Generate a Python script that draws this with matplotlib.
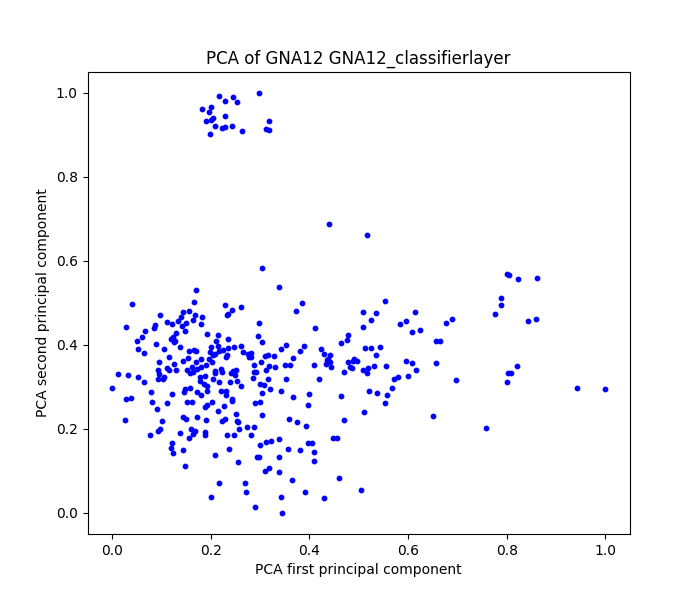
import matplotlib
matplotlib.use('Agg')
import matplotlib.pyplot as plt

# points, grouped by region
top_x = [0.216, 0.246, 0.228, 0.254, 0.297, 0.183, 0.201, 0.197, 0.228, 0.204, 0.191,
         0.200, 0.319, 0.208, 0.223, 0.228, 0.242, 0.264, 0.311, 0.319, 0.199]
top_y = [0.993, 0.990, 0.981, 0.978, 0.999, 0.960, 0.966, 0.954, 0.945, 0.940, 0.933,
         0.934, 0.933, 0.921, 0.916, 0.918, 0.921, 0.909, 0.914, 0.911, 0.902]

mid_x = [0.440, 0.517, 0.304, 0.171, 0.339]
mid_y = [0.688, 0.662, 0.583, 0.530, 0.537]

right_x = [0.788, 0.788, 0.777, 0.689, 0.844, 0.859, 0.820, 0.803, 0.809, 0.800, 0.698,
           0.943, 1.000, 0.759, 0.801, 0.805, 0.822, 0.862]
right_y = [0.511, 0.495, 0.473, 0.461, 0.456, 0.461, 0.349, 0.333, 0.333, 0.311, 0.316,
           0.297, 0.294, 0.202, 0.569, 0.567, 0.557, 0.560]

left_x = [0.041, 0.165, 0.098, 0.143, 0.155, 0.167, 0.182, 0.140, 0.112, 0.121, 0.134,
          0.149, 0.163, 0.181, 0.142, 0.086, 0.084, 0.029, 0.066, 0.147, 0.061, 0.051,
          0.129, 0.124, 0.120, 0.128, 0.125, 0.088, 0.193, 0.215, 0.137, 0.210, 0.214,
          0.200, 0.053, 0.064, 0.106, 0.155, 0.166, 0.170, 0.199, 0.216, 0.208, 0.116,
          0.153, 0.143, 0.181, 0.171, 0.197, 0.202, 0.094, 0.125, 0.112, 0.116, 0.129,
          0.093, 0.094, 0.151, 0.162, 0.164, 0.173, 0.181, 0.191, 0.208, 0.012, 0.033,
          0.053, 0.064, 0.105, 0.093, 0.103, 0.158, 0.178, 0.189, 0.178, 0.186, 0.193,
          0.205, 0.216, 0.000, 0.079, 0.122, 0.147, 0.157, 0.172, 0.145, 0.192, 0.181,
          0.029, 0.039]
left_y = [0.497, 0.502, 0.471, 0.478, 0.481, 0.471, 0.467, 0.466, 0.454, 0.450, 0.456,
          0.453, 0.459, 0.450, 0.444, 0.448, 0.440, 0.442, 0.432, 0.432, 0.418, 0.409,
          0.428, 0.418, 0.414, 0.410, 0.406, 0.402, 0.426, 0.423, 0.395, 0.409, 0.398,
          0.394, 0.390, 0.380, 0.390, 0.385, 0.388, 0.385, 0.383, 0.386, 0.379, 0.371,
          0.369, 0.361, 0.366, 0.359, 0.366, 0.358, 0.360, 0.355, 0.344, 0.339, 0.340,
          0.339, 0.330, 0.339, 0.347, 0.336, 0.342, 0.348, 0.351, 0.337, 0.330, 0.329,
          0.323, 0.311, 0.323, 0.319, 0.319, 0.333, 0.323, 0.325, 0.315, 0.307, 0.301,
          0.318, 0.311, 0.297, 0.288, 0.283, 0.295, 0.298, 0.287, 0.288, 0.290, 0.281,
          0.271, 0.273]

lowleft_x = [0.202, 0.081, 0.112, 0.152, 0.161, 0.192, 0.189, 0.215, 0.090, 0.027, 0.102,
             0.143, 0.149, 0.173, 0.191, 0.096, 0.093, 0.076, 0.137, 0.159, 0.167, 0.163,
             0.189, 0.189, 0.155, 0.122, 0.120, 0.124, 0.143, 0.208, 0.147, 0.216, 0.201]
lowleft_y = [0.264, 0.264, 0.261, 0.264, 0.264, 0.256, 0.252, 0.242, 0.247, 0.221, 0.218,
             0.228, 0.223, 0.228, 0.221, 0.199, 0.196, 0.185, 0.190, 0.199, 0.195, 0.187,
             0.192, 0.186, 0.178, 0.166, 0.154, 0.142, 0.149, 0.137, 0.111, 0.071, 0.037]

center_x = [0.228, 0.244, 0.262, 0.232, 0.234, 0.384, 0.372, 0.297, 0.412, 0.295, 0.303,
            0.234, 0.248, 0.262, 0.224, 0.234, 0.204, 0.266, 0.275, 0.281, 0.281, 0.277,
            0.230, 0.232, 0.301, 0.309, 0.317, 0.329, 0.352, 0.343, 0.380, 0.388, 0.366,
            0.423, 0.430, 0.435, 0.410, 0.419, 0.287, 0.319, 0.331, 0.350, 0.361, 0.209,
            0.220, 0.222, 0.246, 0.252, 0.240, 0.249, 0.287, 0.291, 0.312, 0.286, 0.317,
            0.353, 0.239, 0.254, 0.262, 0.299, 0.307, 0.321, 0.220, 0.230, 0.231, 0.304,
            0.343, 0.366, 0.400, 0.244]
center_y = [0.494, 0.483, 0.490, 0.471, 0.473, 0.499, 0.480, 0.452, 0.440, 0.421, 0.406,
            0.414, 0.394, 0.397, 0.387, 0.392, 0.376, 0.383, 0.378, 0.380, 0.371, 0.371,
            0.371, 0.375, 0.360, 0.373, 0.375, 0.373, 0.399, 0.390, 0.385, 0.397, 0.368,
            0.390, 0.378, 0.364, 0.352, 0.318, 0.352, 0.349, 0.347, 0.352, 0.352, 0.334,
            0.342, 0.335, 0.337, 0.339, 0.333, 0.329, 0.335, 0.335, 0.340, 0.321, 0.318,
            0.318, 0.311, 0.314, 0.302, 0.306, 0.304, 0.295, 0.290, 0.290, 0.280, 0.285,
            0.290, 0.276, 0.283, 0.271]

lowmid_x = [0.226, 0.244, 0.289, 0.299, 0.398, 0.252, 0.303, 0.222, 0.228, 0.254, 0.256,
            0.358, 0.374, 0.394, 0.257, 0.274, 0.287, 0.232, 0.248, 0.281, 0.339, 0.323,
            0.311, 0.299, 0.398, 0.406, 0.356, 0.380, 0.410, 0.236, 0.293, 0.298, 0.339,
            0.410, 0.256, 0.309, 0.319, 0.339, 0.364, 0.270, 0.272, 0.390, 0.343, 0.429,
            0.289, 0.345]
lowmid_y = [0.254, 0.266, 0.261, 0.264, 0.256, 0.235, 0.233, 0.218, 0.223, 0.218, 0.216,
            0.223, 0.216, 0.206, 0.199, 0.204, 0.204, 0.185, 0.185, 0.185, 0.175, 0.171,
            0.168, 0.161, 0.166, 0.166, 0.152, 0.149, 0.144, 0.152, 0.133, 0.133, 0.133,
            0.123, 0.121, 0.099, 0.106, 0.097, 0.078, 0.071, 0.049, 0.049, 0.037, 0.035,
            0.014, 0.000]

east_x = [0.554, 0.508, 0.534, 0.615, 0.524, 0.583, 0.595, 0.676, 0.508, 0.607, 0.625,
          0.479, 0.477, 0.465, 0.656, 0.664, 0.512, 0.524, 0.544, 0.534, 0.442, 0.437,
          0.441, 0.434, 0.443, 0.479, 0.491, 0.496, 0.488, 0.483, 0.487, 0.508, 0.518,
          0.516, 0.530, 0.556, 0.595, 0.607, 0.617, 0.656, 0.471, 0.599, 0.579, 0.571,
          0.567, 0.520, 0.538, 0.558, 0.465, 0.554, 0.510, 0.471, 0.650, 0.447, 0.455,
          0.459, 0.504]
east_y = [0.504, 0.478, 0.475, 0.478, 0.459, 0.449, 0.456, 0.452, 0.442, 0.430, 0.435,
          0.423, 0.411, 0.404, 0.409, 0.409, 0.392, 0.392, 0.395, 0.375, 0.375, 0.366,
          0.359, 0.354, 0.347, 0.359, 0.366, 0.361, 0.361, 0.347, 0.345, 0.340, 0.345,
          0.333, 0.349, 0.349, 0.361, 0.356, 0.340, 0.356, 0.335, 0.325, 0.323, 0.318,
          0.297, 0.290, 0.285, 0.280, 0.278, 0.261, 0.240, 0.221, 0.230, 0.178, 0.178,
          0.083, 0.054]

pc1 = top_x + mid_x + right_x + left_x + lowleft_x + center_x + lowmid_x + east_x
pc2 = top_y + mid_y + right_y + left_y + lowleft_y + center_y + lowmid_y + east_y

fig, ax = plt.subplots(figsize=(7, 6), dpi=100)
ax.scatter(pc1, pc2, s=10, c='blue')
ax.set_title('PCA of GNA12 GNA12_classifierlayer')
ax.set_xlabel('PCA first principal component')
ax.set_ylabel('PCA second principal component')

plt.savefig('out.png', dpi=100)
plt.close()
